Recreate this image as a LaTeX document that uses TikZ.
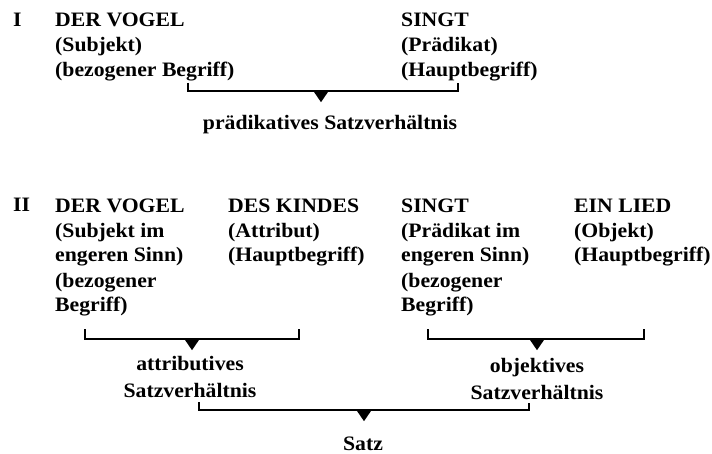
\documentclass[tikz,border=0pt]{standalone}
\usepackage{fontspec}
\setmainfont{Liberation Serif}[FakeStretch=1.06]
\usetikzlibrary{shapes.geometric}

\begin{document}
\begin{tikzpicture}[
  x=1pt, y=-1pt,
  % multi-line nodes sit on the baseline of their last line
  word/.style={anchor=base west, align=left, inner sep=0pt,
               font=\fontsize{20.5}{25}\selectfont\bfseries},
  result/.style={anchor=base, align=center, inner sep=0pt,
                 font=\fontsize{20.5}{27}\selectfont\bfseries},
  pointer/.style={isosceles triangle, isosceles triangle stretches,
                  shape border rotate=-90, fill=black, inner sep=0pt,
                  minimum width=15pt, minimum height=11pt, anchor=lower side},
  bracket/.style={line width=1.3pt},
]
\useasboundingbox (0,0) rectangle (712,454);

% === I: praedikatives Satzverhaeltnis ===
\node[word] (num1) at (13,27) {I};
\node[word] (vogel1) at (55,77) {DER VOGEL\\(Subjekt)\\(bezogener Begriff)};
\node[word] (singt1) at (401,77) {SINGT\\(Prädikat)\\(Hauptbegriff)};

\coordinate (b1l) at (188,83);
\coordinate (b1r) at (458,83);
\node[pointer] (p1) at (321,91) {};
\draw[bracket] (b1l) |- (p1.lower side) -| (b1r);
\node[result] (praed) at (330,130) {prädikatives Satzverhältnis};

% === II: Satz ===
\node[word] (num2) at (13,212) {II};
\node[word] (vogel2) at (55,312)
  {DER VOGEL\\(Subjekt im\\engeren Sinn)\\(bezogener\\Begriff)};
\node[word] (kind) at (228,262) {DES KINDES\\(Attribut)\\(Hauptbegriff)};
\node[word] (singt2) at (401,312)
  {SINGT\\(Prädikat im\\engeren Sinn)\\(bezogener\\Begriff)};
\node[word] (lied) at (574,262) {EIN LIED\\(Objekt)\\(Hauptbegriff)};

% attributive pair
\coordinate (b2l) at (85,329);
\coordinate (b2r) at (299,329);
\node[pointer] (p2) at (192,339) {};
\draw[bracket] (b2l) |- (p2.lower side) -| (b2r);
\node[result] (attr) at (190,397) {attributives\\Satzverhältnis};

% objective pair
\coordinate (b3l) at (428,329);
\coordinate (b3r) at (644,329);
\node[pointer] (p3) at (537,339) {};
\draw[bracket] (b3l) |- (p3.lower side) -| (b3r);
\node[result] (obj) at (537,399) {objektives\\Satzverhältnis};

% whole sentence
\coordinate (b4l) at (199,402);
\coordinate (b4r) at (529,403);
\node[pointer] (p4) at (364,410) {};
\draw[bracket] (b4l) |- (p4.lower side) -| (b4r);
\node[result] (satz) at (363,450) {Satz};

\end{tikzpicture}
\end{document}
